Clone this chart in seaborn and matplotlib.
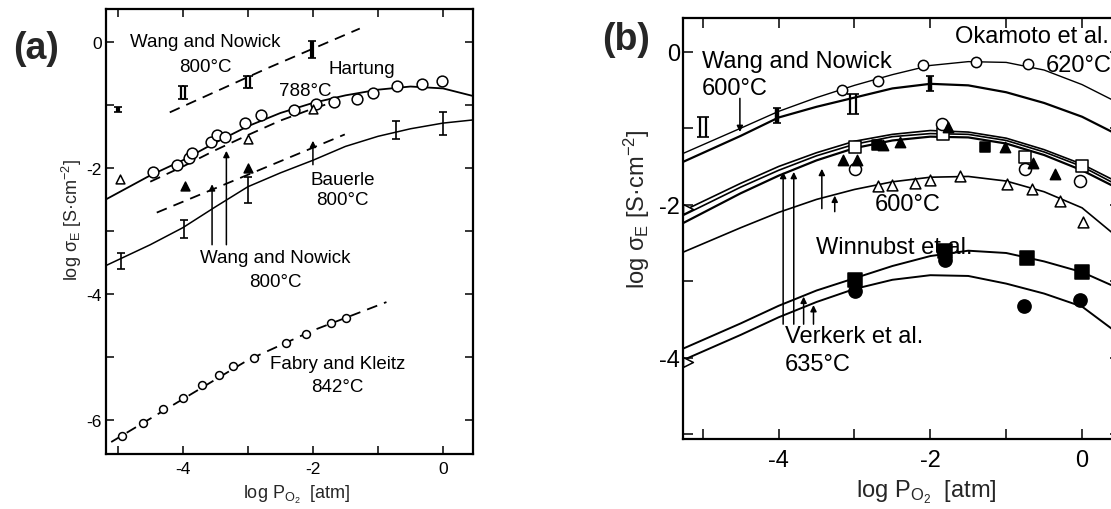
import matplotlib
matplotlib.use("Agg")
import matplotlib.pyplot as plt
import seaborn as sns

# ---------------- panel (a) data ----------------
hartung_curve_x = [-5.18, -4.5, -4.0, -3.5, -3.0, -2.5, -2.0, -1.5, -1.0, -0.5, 0.0, 0.46]
hartung_curve_y = [-2.50, -2.12, -1.88, -1.60, -1.34, -1.13, -0.97, -0.85, -0.76, -0.71, -0.74, -0.86]
hartung_pts_x = [-4.46, -4.09, -3.90, -3.86, -3.56, -3.48, -3.35, -3.05, -2.80, -2.29, -1.95, -1.68, -1.32, -1.08, -0.71, -0.33, -0.02]
hartung_pts_y = [-2.07, -1.96, -1.85, -1.77, -1.59, -1.48, -1.51, -1.29, -1.16, -1.08, -0.99, -0.95, -0.90, -0.82, -0.70, -0.67, -0.62]

hartung_dash_x = [-4.5, -4.0, -3.5, -3.0, -2.5, -2.0, -1.6]
hartung_dash_y = [-2.22, -1.98, -1.72, -1.48, -1.25, -1.06, -0.93]
open_tri_a_x = [-4.97, -3.0, -2.0]
open_tri_a_y = [-2.18, -1.55, -1.07]

wang_hi_dash_x = [-4.2, -2.7, -1.28]
wang_hi_dash_y = [-1.12, -0.42, 0.21]
wang_hi_double_x = [-4.0, -3.0]
wang_hi_double_y = [-0.80, -0.64]
wang_hi_bold_x = [-2.02, -5.0]
wang_hi_bold_y = [-0.12, -1.07]
wang_hi_bold_err = [0.13, 0.04]

bauerle_dash_x = [-4.4, -3.0, -1.51]
bauerle_dash_y = [-2.71, -2.11, -1.47]
filled_tri_a_x = [-3.97, -3.0]
filled_tri_a_y = [-2.29, -2.01]

wang_lo_curve_x = [-5.18, -4.5, -4.0, -3.5, -3.0, -2.5, -2.0, -1.5, -1.0, -0.5, 0.0, 0.46]
wang_lo_curve_y = [-3.55, -3.22, -2.95, -2.62, -2.30, -2.08, -1.88, -1.66, -1.50, -1.38, -1.29, -1.24]
wang_lo_err_x = [-4.95, -3.98, -3.0, -0.72, 0.0]
wang_lo_err_y = [-3.48, -2.97, -2.35, -1.40, -1.30]
wang_lo_err = [0.13, 0.15, 0.20, 0.15, 0.18]

fabry_dash_x = [-5.1, -4.0, -3.0, -2.0, -0.87]
fabry_dash_y = [-6.35, -5.67, -5.05, -4.58, -4.13]
fabry_pts_x = [-4.94, -4.61, -4.30, -3.99, -3.71, -3.45, -3.23, -2.91, -2.42, -2.10, -1.72, -1.49]
fabry_pts_y = [-6.26, -6.05, -5.83, -5.65, -5.45, -5.29, -5.15, -5.01, -4.78, -4.63, -4.46, -4.39]

# ---------------- panel (b) data ----------------
grid_b = [-5.26, -4.5, -4.0, -3.5, -3.0, -2.5, -2.0, -1.5, -1.0, -0.5, 0.0, 0.5]
okamoto_y = [-1.33, -1.00, -0.78, -0.60, -0.44, -0.30, -0.18, -0.13, -0.14, -0.24, -0.43, -0.68]
wang600_y = [-1.44, -1.10, -0.86, -0.72, -0.60, -0.48, -0.42, -0.44, -0.53, -0.67, -0.85, -1.10]
bundle1_y = [-2.08, -1.72, -1.50, -1.32, -1.17, -1.08, -1.03, -1.05, -1.13, -1.28, -1.47, -1.72]
bundle2_y = [-2.14, -1.77, -1.55, -1.36, -1.21, -1.11, -1.07, -1.08, -1.16, -1.31, -1.50, -1.76]
bundle3_y = [-2.24, -1.85, -1.62, -1.42, -1.26, -1.16, -1.11, -1.12, -1.20, -1.35, -1.55, -1.80]
winnubst_y = [-2.62, -2.30, -2.10, -1.93, -1.80, -1.70, -1.64, -1.63, -1.69, -1.83, -2.04, -2.45]
verkerk_hi_y = [-3.88, -3.55, -3.32, -3.12, -2.96, -2.80, -2.67, -2.60, -2.63, -2.74, -2.88, -3.10]
verkerk_lo_y = [-4.03, -3.70, -3.47, -3.27, -3.10, -2.98, -2.92, -2.93, -3.03, -3.16, -3.33, -3.70]

okamoto_pts_x = [-3.17, -2.69, -2.10, -1.40, -0.71]
okamoto_pts_y = [-0.50, -0.38, -0.17, -0.13, -0.16]
wang600_bold_x = [-4.02, -2.0]
wang600_bold_y = [-0.83, -0.42]
wang600_double_x = [-3.02, -5.0]
wang600_double_y = [-0.68, -0.98]

bundle_sq_x = [-2.99, -1.83, -0.75, 0.0]
bundle_sq_y = [-1.24, -1.07, -1.37, -1.50]
bundle_circ_x = [-2.99, -1.85, -0.75, -0.03]
bundle_circ_y = [-1.53, -0.94, -1.53, -1.69]
bundle_ftri_x = [-3.15, -2.96, -2.62, -2.40, -1.77, -1.02, -0.65, -0.36]
bundle_ftri_y = [-1.42, -1.42, -1.22, -1.18, -0.98, -1.25, -1.46, -1.60]
bundle_fsq_x = [-2.70, -1.28]
bundle_fsq_y = [-1.22, -1.25]
winnubst_tri_x = [-2.69, -2.50, -2.20, -2.00, -1.61, -0.99, -0.66, -0.29, 0.01]
winnubst_tri_y = [-1.75, -1.74, -1.72, -1.68, -1.62, -1.73, -1.79, -1.95, -2.22]
edge_tri_x = [-5.2, -5.2]
edge_tri_y = [-2.05, -4.05]
verkerk_sq_x = [-2.99, -1.81, -0.73, 0.0]
verkerk_sq_y = [-2.98, -2.60, -2.69, -2.88]
verkerk_circ_x = [-2.99, -1.81, -0.77, -0.03]
verkerk_circ_y = [-3.12, -2.72, -3.32, -3.25]

# ---------------- style ----------------
sns.set_theme(style="ticks")
plt.rcParams["font.family"] = ["Liberation Sans", "DejaVu Sans"]
plt.rcParams["mathtext.fontset"] = "custom"
plt.rcParams["mathtext.rm"] = "Liberation Sans"
plt.rcParams["mathtext.it"] = "Liberation Sans:italic"
plt.rcParams["axes.unicode_minus"] = False

K = "black"


def curve(ax, x, y, ls="-", lw=1.3):
    sns.lineplot(x=x, y=y, ax=ax, color=K, linewidth=lw, linestyle=ls,
                 sort=False, estimator=None, legend=False, zorder=2)


def points(ax, x, y, marker, filled, size, lw=1.1):
    sns.scatterplot(x=x, y=y, ax=ax, marker=marker, s=size,
                    color=K if filled else "white", edgecolor=K,
                    linewidth=lw, legend=False, zorder=4)


def bars(ax, x, y, err, lw=1.2, cap=3):
    ax.errorbar(x, y, yerr=err, fmt="none", ecolor=K, elinewidth=lw,
                capsize=cap, capthick=1.2, zorder=4)


def double_bars(ax, x, y, err=0.12, dx=0.045):
    bars(ax, [v - dx for v in x], y, err, lw=1.6, cap=2.5)
    bars(ax, [v + dx for v in x], y, err, lw=1.6, cap=2.5)


def arrow(ax, x, y0, y1, lw=1.1):
    ax.annotate("", xy=(x, y1), xytext=(x, y0),
                arrowprops=dict(arrowstyle="-|>", lw=lw, color=K,
                                shrinkA=0, shrinkB=0, mutation_scale=9,
                                fc=K), zorder=5)


def frame(ax, xlim, ylim, xticks, yticks, xlabels, ylabels, fs, tlen, pad_x, pad_y):
    ax.set_xlim(*xlim)
    ax.set_ylim(*ylim)
    ax.set_xticks(xticks)
    ax.set_yticks(yticks)
    ax.set_xticklabels([str(v) if v in xlabels else "" for v in xticks])
    ax.set_yticklabels([str(v) if v in ylabels else "" for v in yticks])
    for s in ax.spines.values():
        s.set_visible(True)
        s.set_linewidth(1.6)
        s.set_color(K)
    ax.tick_params(axis="both", direction="in", length=tlen, width=1.1,
                   colors=K, labelsize=fs, top=True, right=True)
    ax.tick_params(axis="x", pad=pad_x)
    ax.tick_params(axis="y", pad=pad_y)
    ax.set_xlabel("")
    ax.set_ylabel("")
    ax.set_facecolor("white")


W, H = 1111, 510
fig = plt.figure(figsize=(W / 100, H / 100), dpi=100, facecolor="white")
ax_a = fig.add_axes([106 / W, 1 - 455 / H, 367 / W, 445 / H])
ax_b = fig.add_axes([683 / W, 1 - 440 / H, 437 / W, 421 / H])

# ---------------- panel (a) ----------------
ax = ax_a
dash = (0, (6, 4))
curve(ax, hartung_curve_x, hartung_curve_y)
points(ax, hartung_pts_x, hartung_pts_y, "o", False, 60)
curve(ax, hartung_dash_x, hartung_dash_y, ls=dash)
points(ax, open_tri_a_x, open_tri_a_y, "^", False, 40)
curve(ax, wang_hi_dash_x, wang_hi_dash_y, ls=dash)
double_bars(ax, wang_hi_double_x, wang_hi_double_y, err=0.1, dx=0.035)
bars(ax, wang_hi_bold_x, wang_hi_bold_y, wang_hi_bold_err, lw=3.0, cap=3)
curve(ax, bauerle_dash_x, bauerle_dash_y, ls=dash)
points(ax, filled_tri_a_x, filled_tri_a_y, "^", True, 40)
curve(ax, wang_lo_curve_x, wang_lo_curve_y, lw=1.1)
bars(ax, wang_lo_err_x, wang_lo_err_y, wang_lo_err)
curve(ax, fabry_dash_x, fabry_dash_y, ls=dash)
points(ax, fabry_pts_x, fabry_pts_y, "o", False, 32)

arrow(ax, -3.55, -3.22, -2.26)
arrow(ax, -3.33, -3.22, -1.73)
arrow(ax, -2.0, -1.95, -1.57)

fs_a = 13.5
txt_a = [("Wang and Nowick", -3.66, 0.0), ("800°C", -3.66, -0.39),
         ("Hartung", -1.25, -0.43), ("788°C", -2.12, -0.78),
         ("Bauerle", -1.54, -2.18), ("800°C", -1.54, -2.50),
         ("Wang and Nowick", -2.58, -3.42), ("800°C", -2.58, -3.80),
         ("Fabry and Kleitz", -1.62, -5.10), ("842°C", -1.62, -5.47)]
for s, x, y in txt_a:
    ax.text(x, y, s, ha="center", va="center", fontsize=fs_a, color=K, zorder=6)

frame(ax, (-5.18, 0.46), (-6.54, 0.52), [-5, -4, -3, -2, -1, 0],
      [-6, -5, -4, -3, -2, -1, 0], [-4, -2, 0], [-6, -4, -2, 0],
      12.5, 6, 5, 3)

# ---------------- panel (b) ----------------
ax = ax_b
for ys, lw in [(okamoto_y, 1.0), (wang600_y, 1.6), (bundle1_y, 1.2),
               (bundle2_y, 1.2), (bundle3_y, 1.6), (winnubst_y, 1.2),
               (verkerk_hi_y, 1.4), (verkerk_lo_y, 1.4)]:
    curve(ax, grid_b, ys, lw=lw)

points(ax, okamoto_pts_x, okamoto_pts_y, "o", False, 55)
bars(ax, wang600_bold_x, wang600_bold_y, [0.1, 0.1], lw=3.2, cap=3)
double_bars(ax, wang600_double_x, wang600_double_y, err=0.13, dx=0.04)
points(ax, bundle_sq_x, bundle_sq_y, "s", False, 75)
points(ax, bundle_circ_x, bundle_circ_y, "o", False, 75)
points(ax, bundle_ftri_x, bundle_ftri_y, "^", True, 55)
points(ax, bundle_fsq_x, bundle_fsq_y, "s", True, 45)
points(ax, winnubst_tri_x, winnubst_tri_y, "^", False, 60)
points(ax, edge_tri_x, edge_tri_y, ">", False, 50)
points(ax, verkerk_sq_x, verkerk_sq_y, "s", True, 110)
points(ax, verkerk_circ_x, verkerk_circ_y, "o", True, 90)

arrow(ax, -4.51, -0.61, -1.05)
arrow(ax, -3.94, -3.56, -1.57)
arrow(ax, -3.80, -3.56, -1.57)
arrow(ax, -3.43, -2.05, -1.53)
arrow(ax, -3.26, -2.09, -1.88)
arrow(ax, -3.67, -3.56, -3.20)
arrow(ax, -3.54, -3.56, -3.31)

fs_b = 17
txt_b = [("Wang and Nowick", -5.01, -0.12), ("600°C", -5.01, -0.48),
         ("Okamoto et al.", -1.68, 0.21), ("620°C", -0.48, -0.17),
         ("600°C", -2.73, -1.99), ("Winnubst et al.", -3.51, -2.55),
         ("Verkerk et al.", -3.92, -3.71), ("635°C", -3.92, -4.08)]
for s, x, y in txt_b:
    ax.text(x, y, s, ha="left", va="center", fontsize=fs_b, color=K, zorder=6)

frame(ax, (-5.26, 0.5), (-5.06, 0.44), [-5, -4, -3, -2, -1, 0],
      [-5, -4, -3, -2, -1, 0], [-4, -2, 0], [-4, -2, 0],
      17, 7, 7, 2)

# ---------------- labels ----------------
xlab = r"log P$_{\mathregular{O_2}}$  [atm]"
ylab = r"log $\mathregular{\sigma_E}$ [S·cm$^{\mathregular{-2}}$]"
fig.text(297 / W, 1 - 495 / H, xlab, ha="center", va="center", fontsize=13)
fig.text(72 / W, 1 - 220 / H, ylab, ha="center", va="center", fontsize=13, rotation=90)
fig.text(926 / W, 1 - 492 / H, xlab, ha="center", va="center", fontsize=17)
fig.text(637 / W, 1 - 209 / H, ylab, ha="center", va="center", fontsize=17, rotation=90)
fig.text(36 / W, 1 - 49 / H, "(a)", ha="center", va="center", fontsize=27, fontweight="bold")
fig.text(626 / W, 1 - 40 / H, "(b)", ha="center", va="center", fontsize=27, fontweight="bold")

fig.savefig("out.png", dpi=100, facecolor="white")
